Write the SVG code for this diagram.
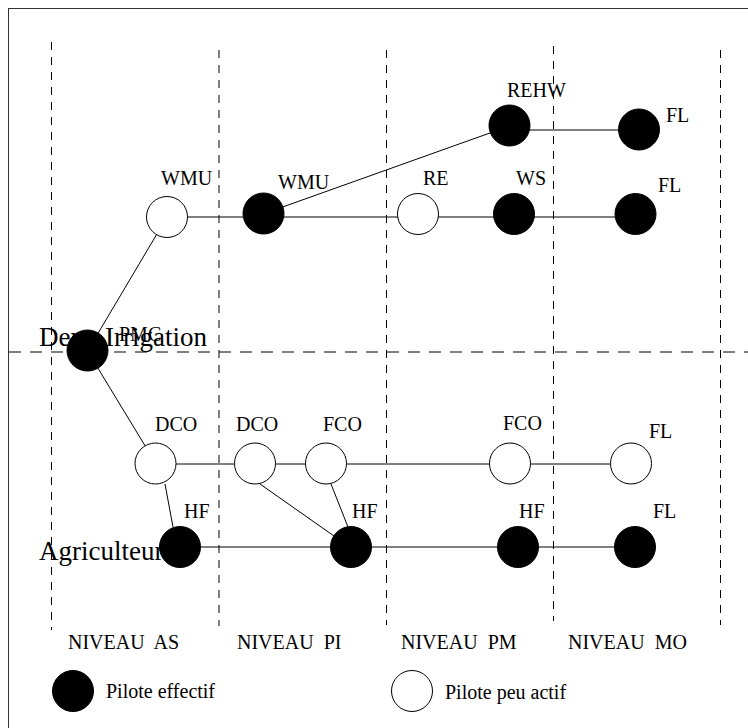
<svg xmlns="http://www.w3.org/2000/svg" width="748" height="728" viewBox="0 0 748 728" font-family="'Liberation Serif', 'DejaVu Serif', 'Times New Roman', serif">
<style>
text{font-family:'Liberation Serif','DejaVu Serif','Times New Roman',serif;fill:#000}
.lbl{font-size:20px}
.big{font-size:27px}
.lev{font-size:20px}
.on{fill:#000;stroke:#000;stroke-width:1}
.off{fill:#fff;stroke:#000;stroke-width:1}
.vd{stroke:#000;stroke-width:1;stroke-dasharray:8 7;fill:none}
.hd{stroke:#000;stroke-width:1;stroke-dasharray:12 9;fill:none}
#connectors line{stroke:#000;stroke-width:1}
</style>
<rect x="8.5" y="8.5" width="760" height="760" fill="#fff" stroke="#333" stroke-width="1"/>
<g id="grid">
<line class="vd" x1="51.5" y1="42" x2="51.5" y2="630"/>
<line class="vd" x1="219" y1="50" x2="219" y2="626"/>
<line class="vd" x1="386.5" y1="50" x2="386.5" y2="625"/>
<line class="vd" x1="553.5" y1="46" x2="553.5" y2="621"/>
<line class="vd" x1="720.5" y1="50" x2="720.5" y2="625"/>
<line class="hd" x1="9" y1="352" x2="748" y2="352"/>
</g>
<text class="big" x="39" y="346">Dem. Irrigation</text>
<text class="big" x="39" y="560">Agriculteur</text>
<g id="connectors">
<line x1="87.5" y1="351" x2="167" y2="217"/>
<line x1="87.5" y1="351" x2="155.5" y2="463"/>
<line x1="167" y1="217" x2="418" y2="217"/>
<line x1="263" y1="214" x2="509.5" y2="126"/>
<line x1="509.5" y1="130" x2="639" y2="130"/>
<line x1="418" y1="217" x2="635" y2="217"/>
<line x1="155.5" y1="464" x2="631" y2="464"/>
<line x1="165" y1="484" x2="173" y2="527"/>
<line x1="260" y1="484" x2="334" y2="536"/>
<line x1="331" y1="484" x2="348" y2="527"/>
<line x1="180" y1="547" x2="635" y2="547"/>
</g>
<g id="n-rehw"><circle class="on" cx="509.5" cy="125.5" r="20.5"/><text class="lbl" x="507" y="97">REHW</text></g>
<g id="n-fl1"><circle class="on" cx="639" cy="129.5" r="20.5"/><text class="lbl" x="666" y="122">FL</text></g>
<g id="n-wmu1"><circle class="off" cx="167" cy="217" r="20.5"/><text class="lbl" x="161" y="185">WMU</text></g>
<g id="n-wmu2"><circle class="on" cx="263.5" cy="213.5" r="20.5"/><text class="lbl" x="278" y="189">WMU</text></g>
<g id="n-re"><circle class="off" cx="418" cy="214" r="20.5"/><text class="lbl" x="423" y="185">RE</text></g>
<g id="n-ws"><circle class="on" cx="514" cy="214" r="20.5"/><text class="lbl" x="516" y="185">WS</text></g>
<g id="n-fl2"><circle class="on" cx="635.5" cy="214" r="20.5"/><text class="lbl" x="658" y="192">FL</text></g>
<g id="n-pmc"><circle class="on" cx="87.5" cy="350.5" r="20.5"/><text class="lbl" x="119" y="341">PMC</text></g>
<g id="n-dco1"><circle class="off" cx="155.5" cy="463.5" r="20.5"/><text class="lbl" x="155" y="431">DCO</text></g>
<g id="n-dco2"><circle class="off" cx="255" cy="463.5" r="20.5"/><text class="lbl" x="236" y="431">DCO</text></g>
<g id="n-fco1"><circle class="off" cx="326" cy="463.5" r="20.5"/><text class="lbl" x="323" y="431">FCO</text></g>
<g id="n-fco2"><circle class="off" cx="510" cy="463.5" r="20.5"/><text class="lbl" x="503" y="430">FCO</text></g>
<g id="n-fl3"><circle class="off" cx="631" cy="463.5" r="20.5"/><text class="lbl" x="649" y="438">FL</text></g>
<g id="n-hf1"><circle class="on" cx="180" cy="547" r="20.5"/><text class="lbl" x="184" y="518">HF</text></g>
<g id="n-hf2"><circle class="on" cx="351" cy="547" r="20.5"/><text class="lbl" x="352" y="518">HF</text></g>
<g id="n-hf3"><circle class="on" cx="518" cy="547" r="20.5"/><text class="lbl" x="519" y="518">HF</text></g>
<g id="n-fl4"><circle class="on" cx="635" cy="547" r="20.5"/><text class="lbl" x="653" y="518">FL</text></g>
<g id="levels">
<text class="lev" x="68" y="649" xml:space="preserve">NIVEAU  AS</text>
<text class="lev" x="237" y="649" xml:space="preserve">NIVEAU  PI</text>
<text class="lev" x="401" y="649" xml:space="preserve">NIVEAU  PM</text>
<text class="lev" x="568" y="649" xml:space="preserve">NIVEAU  MO</text>
</g>
<g id="legend">
<g id="leg-on"><circle class="on" cx="73" cy="691" r="20.5"/><text class="lev" x="106" y="698">Pilote effectif</text></g>
<g id="leg-off"><circle class="off" cx="412" cy="691" r="20.5"/><text class="lev" x="445" y="699">Pilote peu actif</text></g>
</g>
</svg>
